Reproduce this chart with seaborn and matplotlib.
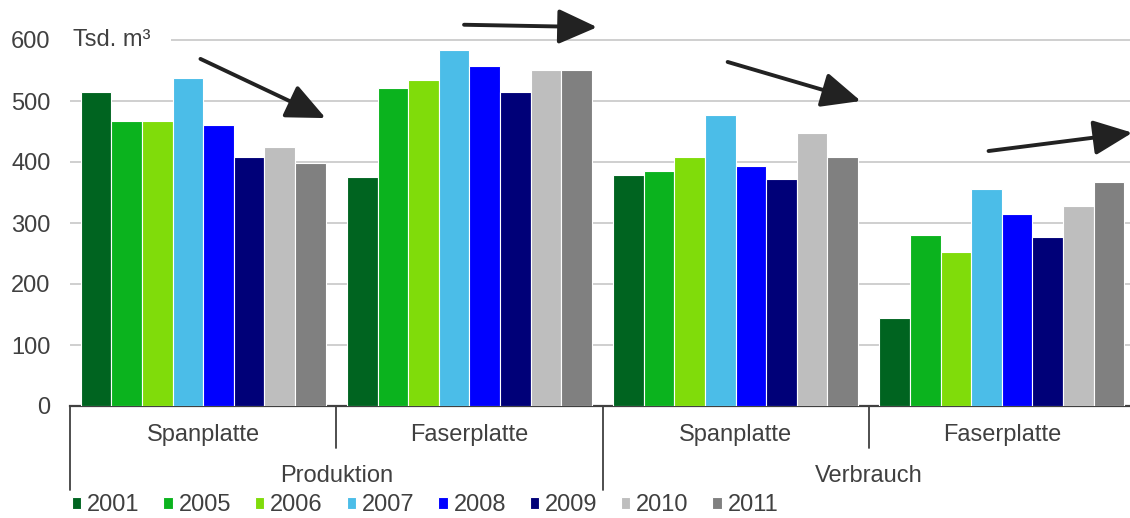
import pandas as pd
import matplotlib.pyplot as plt
import seaborn as sns
from matplotlib.transforms import blended_transform_factory

# data (Tsd. m³)
groups = ['Produktion|Spanplatte', 'Produktion|Faserplatte',
          'Verbrauch|Spanplatte', 'Verbrauch|Faserplatte']
sub_labels = ['Spanplatte', 'Faserplatte', 'Spanplatte', 'Faserplatte']
main_labels = ['Produktion', 'Verbrauch']
years = ['2001', '2005', '2006', '2007', '2008', '2009', '2010', '2011']

prod_span = [514, 468, 468, 538, 460, 408, 424, 398]
prod_faser = [376, 522, 535, 584, 558, 514, 551, 551]
verb_span = [379, 385, 408, 477, 393, 372, 447, 409]
verb_faser = [144, 280, 253, 355, 315, 277, 328, 367]

colors = ['#006420', '#0bb31e', '#80dc0a', '#4bbde8',
          '#0000ff', '#000078', '#bebebe', '#808080']

rows = []
for g, vals in zip(groups, [prod_span, prod_faser, verb_span, verb_faser]):
    for y, v in zip(years, vals):
        rows.append({'Gruppe': g, 'Jahr': y, 'Wert': v})
df = pd.DataFrame(rows)

sns.set_style('white')
plt.rcParams['font.family'] = ['Liberation Sans', 'DejaVu Sans']
txt_col = '#404040'

fig = plt.figure(figsize=(11.3, 5.18), dpi=100)
ax = fig.add_axes([70 / 1130, 112 / 518, 1065 / 1130, 396.5 / 518])

sns.barplot(data=df, x='Gruppe', y='Wert', hue='Jahr', palette=colors, saturation=1,
            width=0.92, edgecolor='white', linewidth=0.8, ax=ax, zorder=3)

ax.set_xlim(-0.5, 3.5)
ax.set_ylim(0, 650)
ax.set_yticks(range(0, 601, 100))
ax.yaxis.grid(True, color='#cccccc', lw=1.3, zorder=0)
ax.set_axisbelow(True)
for s in ['top', 'right', 'left']:
    ax.spines[s].set_visible(False)
ax.spines['bottom'].set_color(txt_col)
ax.spines['bottom'].set_linewidth(1.6)
ax.tick_params(axis='y', length=0, pad=14, labelsize=17, labelcolor=txt_col)
ax.set_xticks([])
ax.set_xlabel('')
ax.set_ylabel('')

ax.text(-0.49, 600, 'Tsd. m³', fontsize=17, color=txt_col, va='center', ha='left',
        bbox=dict(fc='white', ec='none', pad=15), zorder=4)

# two-level category axis
tr = blended_transform_factory(ax.transData, ax.transAxes)
for xs in [-0.5, 1.5, 3.5]:
    ax.plot([xs, xs], [0, -0.212], transform=tr, color=txt_col, lw=1.3, clip_on=False)
for xs in [0.5, 2.5]:
    ax.plot([xs, xs], [0, -0.106], transform=tr, color=txt_col, lw=1.3, clip_on=False)
for i, lab in enumerate(sub_labels):
    ax.text(i, -0.073, lab, transform=tr, ha='center', va='center',
            fontsize=17, color=txt_col)
for i, lab in enumerate(main_labels):
    ax.text(0.5 + 2 * i, -0.177, lab, transform=tr, ha='center', va='center',
            fontsize=17, color=txt_col)

# trend arrows
arrows = [((-0.01, 569), (0.46, 472)),
          ((0.98, 625), (1.48, 621)),
          ((1.97, 564), (2.47, 500)),
          ((2.95, 418), (3.49, 448))]
for start, end in arrows:
    ax.annotate('', xy=end, xytext=start, annotation_clip=False,
                arrowprops=dict(arrowstyle='-|>,head_length=1.0,head_width=0.45',
                                mutation_scale=24, lw=2.8, color='#222222',
                                shrinkA=0, shrinkB=0), zorder=5)

handles, labels = ax.get_legend_handles_labels()
ax.get_legend().remove()
fig.legend(handles, labels, loc='center left', bbox_to_anchor=(72 / 1130, 1 - 505 / 518),
           ncol=8, frameon=False, fontsize=17, handlelength=0.4, handleheight=0.4,
           handletextpad=0.25, columnspacing=1.0, borderpad=0, borderaxespad=0,
           labelcolor=txt_col)

fig.savefig('out.png', dpi=100)
